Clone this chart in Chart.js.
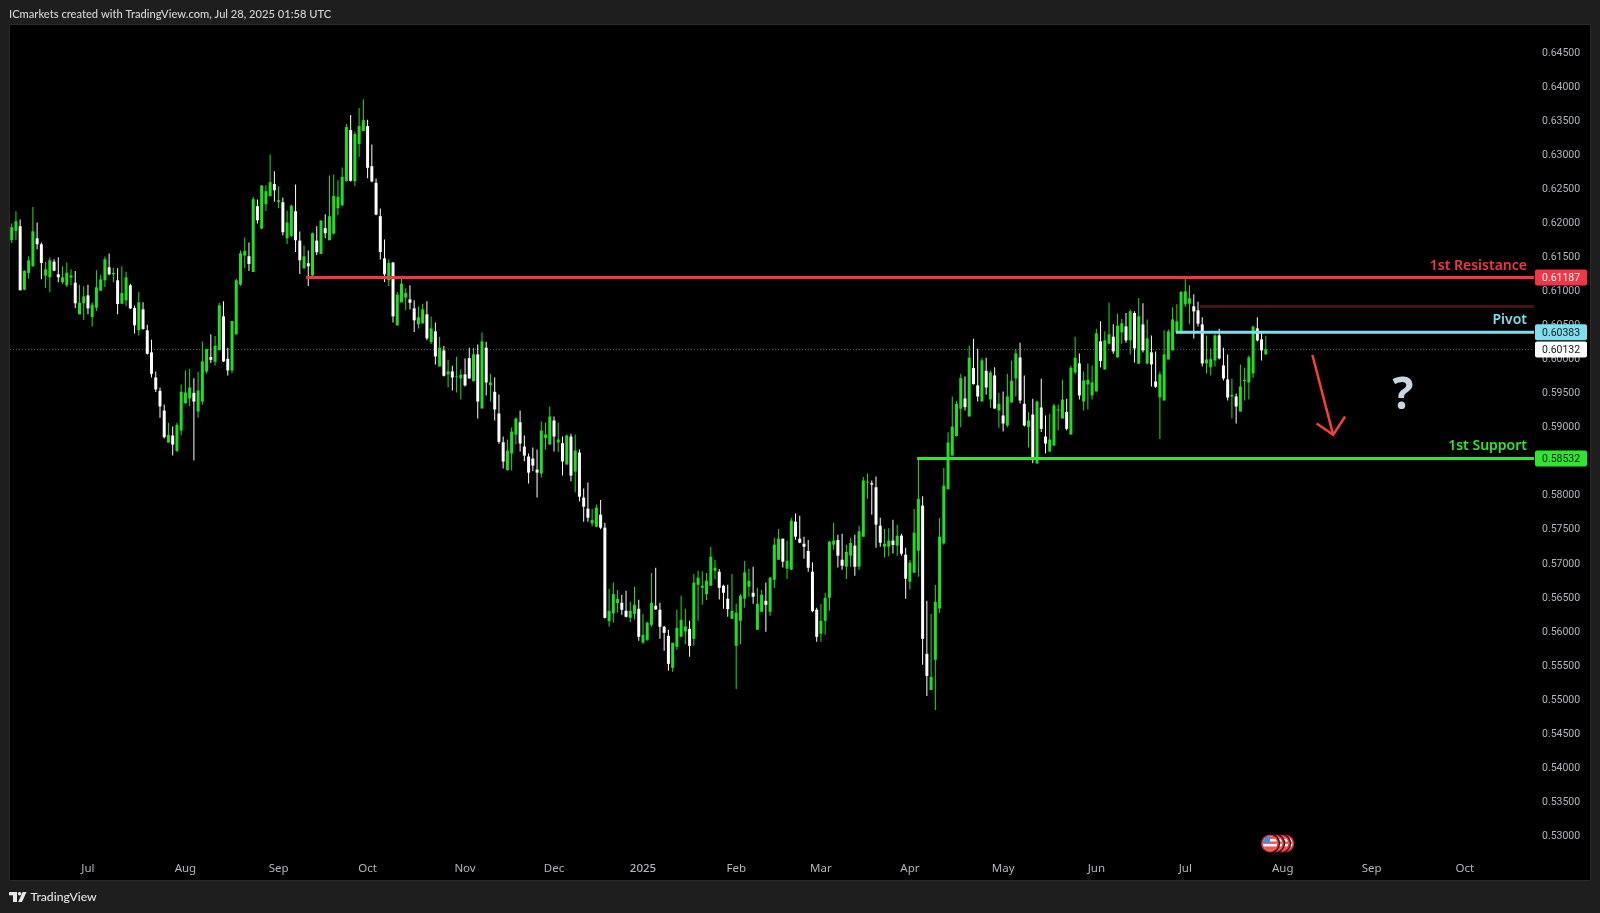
<!DOCTYPE html>
<html><head><meta charset="utf-8"><style>html,body{margin:0;padding:0;background:#1e1e1e}canvas{display:block}</style>
<script src="https://cdn.jsdelivr.net/npm/chart.js@4"></script></head><body><canvas id="c" width="1600" height="913"></canvas>
<script>
// Prices in units of 0.00001
const opens=[61735,61872,61941,61010,61255,61358,61764,61676,61215,61191,
61421,61235,61122,61073,61186,61112,60647,60809,60926,60608,
60745,60995,61147,61338,61235,61147,60804,60853,61073,60740,
60416,60720,60412,60088,59720,59524,59235,58764,58867,58642,
58941,59343,59412,59495,59220,59367,59808,60019,59951,60122,
60617,59995,59823,60353,61083,61510,61500,61269,62235,61907,
62265,62382,62559,62299,62294,61764,61799,62161,61730,61323,
61397,61220,61730,61534,61912,61735,61833,62206,62250,62603,
63353,62603,63147,63338,63412,62823,62578,62088,61470,61147,
61407,60485,60823,60892,60867,60735,60500,60514,60647,60240,
60397,59882,60117,59765,59809,59725,59706,59765,60005,59666,
60059,59265,60157,59608,59510,59191,58769,58358,58603,58882,
59063,58706,58559,58529,58367,58309,58833,58735,59088,58765,
58755,58441,58853,58338,58617,57956,57794,57578,57529,57706,
57515,56142,56255,56407,56412,56294,56191,56250,56324,55828,
55868,56088,56368,56309,56059,55926,55456,55765,55912,55990,
56029,55882,56676,56632,56539,56662,56882,56868,56662,56471,
56176,55779,56147,56471,56647,56559,56015,56279,56441,56279,
56750,57044,57353,56912,56897,57603,57353,57279,57172,56868,
56309,55956,56147,56485,57265,57333,57044,56941,57103,57250,
56941,57382,58176,58167,58108,57544,57235,57235,57324,57250,
57397,57118,56721,56853,57176,57838,55662,55132,55574,56328,
57284,58078,58573,58858,59260,59412,59147,59858,59603,59367,
59818,59397,59750,59235,59162,59015,59353,59706,60015,59333,
58995,59176,58456,59279,58853,58632,58720,59235,59118,59216,
58882,59794,59926,59367,59617,59456,59515,60250,59838,60215,
60319,60015,60382,60470,60265,60667,59922,60500,59926,60088,
59662,59426,59382,59985,60118,60382,60367,60794,60804,60765,
60706,60500,59926,59868,59970,60338,59897,59691,59441,59441,
59220,59667,59647,59779,60441,60279,60059];
const highs=[61980,62162,62039,61294,61500,62225,61995,61701,61416,61480,
61456,61485,61353,61407,61309,61284,61083,61059,61083,60823,
61294,61230,61495,61539,61333,61323,61353,61274,61098,60774,
60975,60823,60495,60274,59808,59573,59323,59054,59000,59054,
59617,59823,59848,59710,59804,60250,60142,60353,60328,60818,
60838,60157,60549,61171,61583,61774,61701,62372,62333,62544,
62544,62995,62750,62529,62362,62171,62260,62554,61862,61657,
61583,61848,61941,62029,62117,62686,62701,62617,62804,63441,
63573,63328,63676,63804,63505,63142,62642,62201,61745,61456,
61416,60975,61201,61029,61073,60853,60764,60804,60838,60617,
60529,60318,60181,59980,59892,60024,59838,60000,60157,60152,
60206,60382,60245,59774,59720,59470,58853,58809,58985,59132,
59235,58867,58603,58691,58662,59073,59059,59294,59147,59059,
58853,58882,58892,58882,58662,58088,58176,57789,57853,57922,
57588,56613,56711,56598,56524,56588,56426,56647,56456,56245,
56132,56848,56926,56412,56073,56015,55824,56309,56515,56324,
56147,56833,56882,56873,56848,57235,57044,56907,56676,56676,
56833,56397,56539,57024,56912,56941,56632,56598,56711,56794,
57368,57495,57353,57324,57662,57721,57691,57382,57333,57005,
56338,56392,56559,57324,57588,57412,57426,57265,57368,57412,
57544,58260,58309,58206,58265,57662,57495,57505,57632,57559,
57426,57221,57044,57789,58530,57975,56441,56245,56672,57657,
58392,58916,59441,59372,59774,59735,60191,60289,60142,60005,
60010,59823,59872,59495,59515,59774,59970,60142,60230,59750,
59211,59407,59382,59701,59162,59186,59333,59323,59686,59407,
59892,60318,60073,59809,59926,59897,60436,60544,60397,60818,
60500,60657,60583,60667,60720,60691,60882,60809,60573,60338,
60103,59809,60412,60426,60750,60794,60990,61206,61073,60941,
60833,60603,60338,60147,60353,60436,60157,60059,59701,59485,
59912,59863,60044,60480,60603,60387,60333];
const lows=[61696,61735,61000,61000,61171,61343,61603,61161,61039,60970,
61279,61117,61088,61049,61073,60735,60647,60563,60647,60470,
60696,60990,61049,61220,61117,60647,60794,60765,60725,60367,
60338,60421,60058,59720,59505,59127,58823,58764,58573,58622,
58872,59333,59299,58500,59127,59318,59774,59931,59897,60122,
59946,59750,59784,60353,61068,61328,61284,61269,61980,61897,
62166,62382,62299,62206,61804,61681,61784,61563,61240,61318,
61063,61196,61519,61534,61764,61735,61818,62103,62235,62603,
62598,62529,62961,63338,62647,62588,62103,61451,61122,61063,
60529,60485,60823,60706,60720,60387,60441,60514,60265,60211,
59912,59882,59735,59573,59529,59500,59397,59588,59701,59662,
59117,59265,59456,59367,59088,58745,58382,58353,58353,58735,
58632,58490,58162,58343,57956,58250,58657,58735,58632,58627,
58279,58441,58196,58034,57897,57603,57603,57534,57520,57490,
56181,56064,56118,56270,56235,56196,56127,56167,55853,55804,
55853,56059,56309,55882,55706,55412,55397,55721,55912,55804,
55618,55779,56147,56382,56451,56662,56760,56461,56324,56206,
56176,55147,55804,56338,56500,56397,56015,56279,55985,56221,
56627,57044,56931,56760,56897,57338,57284,57059,56868,56274,
55838,55838,55941,56294,57191,56931,56897,56760,56941,56809,
56897,57382,57941,57706,57221,57235,57078,57093,57137,57103,
57103,56471,56608,56853,56794,55500,55044,55132,54838,56265,
57265,58078,58573,58858,58990,59235,59147,59617,59367,59367,
59470,59274,59260,58980,58926,58990,59353,59441,59338,59000,
58691,58460,58456,58921,58603,58632,58720,58941,59118,58941,
58882,59765,59397,59235,59250,59397,59515,59868,59838,60215,
60069,60015,60216,60230,60059,59941,59922,60088,59912,59588,
59568,58818,59382,59985,60118,60382,60367,60755,60500,60294,
60470,59882,59779,59750,59882,59985,59676,59382,59118,59044,
59220,59382,59397,59716,60250,59970,60059];
const closes=[61926,62014,61000,61284,61441,61867,61676,61402,61309,61441,
61289,61191,61191,61259,61220,60809,60818,60911,60735,60789,
61044,61161,61456,61235,61255,60799,60961,61191,60735,60485,
60823,60431,60068,59774,59544,59294,58843,58877,58735,59024,
59510,59500,59573,59367,59529,59956,60137,59980,60186,60779,
59956,59823,60549,61147,61544,61578,61387,62338,62029,62539,
62456,62588,62470,62323,61853,61995,62240,61735,61441,61500,
61353,61838,61559,62024,61838,62088,62387,62372,62666,63397,
62608,63294,63412,63500,62799,62598,62112,61563,61235,61402,
60617,60936,61098,60961,60818,60559,60603,60720,60294,60441,
60029,60157,59745,59809,59720,59735,59760,59603,59706,60059,
59367,60250,59647,59647,59250,58774,58485,58647,58926,59117,
58750,58573,58323,58426,58323,58941,58882,59147,58853,58809,
58485,58867,58279,58647,57970,57823,57661,57627,57809,57515,
56191,56294,56539,56471,56309,56206,56294,56382,55912,55941,
56118,56412,56314,56059,55971,55515,55824,56044,56162,56064,
55779,56706,56779,56662,56735,57088,56926,56632,56559,56319,
56294,56265,56515,56858,56735,56500,56397,56529,56382,56779,
57265,57353,57015,57029,57618,57382,57294,57235,56926,56289,
55912,56147,56485,57309,57324,57103,56956,57157,57289,56941,
57461,58206,58191,58147,57559,57294,57279,57324,57260,57397,
57132,56765,57000,57441,57936,55882,55338,55324,56426,57382,
58132,58765,59000,59333,59711,59284,60010,59622,59441,59970,
59573,59794,59265,59333,59044,59441,59671,60073,59382,59015,
59088,58514,59367,58965,58750,58809,59309,59250,59397,58965,
59862,60010,59456,59676,59686,59647,60367,59961,60265,60353,
60103,60480,60515,60265,60691,60147,60618,60118,60294,59912,
59583,59765,60059,60397,60573,60544,60975,60985,60882,60691,
60510,59926,59985,59990,60338,60000,59706,59426,59465,59294,
59588,59686,60015,60466,60265,60118,60132];

const monthTickIndex=[18,41,63,84,107,128,149,171,191,212,234,256,277,300,321,343];
const monthTickLabels=["Jul","Aug","Sep","Oct","Nov","Dec","2025","Feb","Mar","Apr","May","Jun","Jul","Aug","Sep","Oct"];
const priceTicks=[0.53,0.535,0.54,0.545,0.55,0.555,0.56,0.565,0.57,0.575,0.58,0.585,0.59,0.595,0.6,0.605,0.61,0.615,0.62,0.625,0.63,0.635,0.64,0.645];

const resistanceLevel=0.61187, pivotLevel=0.60383, supportLevel=0.58532, lastPrice=0.60132, minorLevel=0.60764;
const resistanceStart=69.5, pivotStart=274.8, supportStart=213.7, minorStart=280.5;
const arrowShaft=[{x:307,y:0.6005},{x:311.9,y:0.58878}];
const arrowHead=[{x:308,y:0.59044},{x:311.9,y:0.58878},{x:314.7,y:0.59147}];
const questionMark={x:328.4,y:0.59435};
const eventIndex=[300.6,299.6,298.2,297];

const UP='#22dd22', DOWN='#ffffff', RED='#f23645', CYAN='#80deea', GREEN='#2ee62e';
const X_MAX=359.3, X_MIN=-0.4, Y_MIN=0.526785, Y_MAX=0.648959;
const FONT='Roboto, sans-serif';
const idx=opens.map((_,i)=>i);
const candleColors=idx.map(i=>closes[i]>=opens[i]?UP:DOWN);
const wickData=idx.map(i=>({x:i,y:[lows[i]/1e5,highs[i]/1e5]}));
const bodyData=idx.map(i=>({x:i,y:[Math.min(opens[i],closes[i])/1e5,Math.max(opens[i],closes[i])/1e5]}));
const hline=(start,v)=>[{x:start,y:v},{x:X_MAX,y:v}];
const lineDs=(data,color,width,order,extra)=>Object.assign({type:'line',data,borderColor:color,borderWidth:width,pointRadius:0,tension:0,order,borderCapStyle:'butt'},extra||{});

const frame={id:'frame',beforeDraw(ch){const c=ch.ctx;c.save();
  c.fillStyle='#1e1e1e';c.fillRect(0,0,1600,913);
  c.fillStyle='#2a2a2a';c.fillRect(9,24,1582,857);
  c.fillStyle='#000';c.fillRect(10,25,1580,855);c.restore();},
 afterDraw(ch){const c=ch.ctx,x=ch.scales.x,y=ch.scales.y;c.save();
  // header and footer
  c.textBaseline='middle';c.textAlign='left';
  c.fillStyle='#d6d6d6';c.font='500 11.15px Lato, sans-serif';
  c.fillText('ICmarkets created with TradingView.com, Jul 28, 2025 01:58 UTC',9,14);
  c.fillStyle='#e4e4e4';c.font='500 12.2px Lato, sans-serif';
  c.fillText('TradingView',30.5,897);
  c.fillStyle='#e8e8e8';c.fillRect(9,892,8,3.3);c.fillRect(13,892,4,10);
  c.beginPath();c.arc(19.6,893.8,1.8,0,7);c.fill();
  c.beginPath();c.moveTo(18.2,902);c.lineTo(22.6,892);c.lineTo(26.5,892);c.lineTo(22,902);c.closePath();c.fill();
  // level captions
  c.textAlign='right';c.font='600 14px "Noto Sans", sans-serif';
  c.fillStyle=RED;c.fillText('1st Resistance',1527,y.getPixelForValue(resistanceLevel)-12);
  c.fillStyle=CYAN;c.fillText('Pivot',1527,y.getPixelForValue(pivotLevel)-12);
  c.fillStyle=GREEN;c.fillText('1st Support',1527,y.getPixelForValue(supportLevel)-12);
  // price tags
  const tag=(v,bg,fg)=>{const py=y.getPixelForValue(v);c.fillStyle=bg;c.beginPath();c.roundRect(1535,py-8,52,16,2);c.fill();
    c.fillStyle=fg;c.textAlign='left';c.font='10.5px '+FONT;c.fillText(v.toFixed(5),1542,py+1);};
  tag(resistanceLevel,RED,'#ffffff');tag(lastPrice,'#ffffff','#131722');tag(pivotLevel,CYAN,'#131722');tag(supportLevel,GREEN,'#131722');
  // question mark
  c.textAlign='center';c.fillStyle='#c9d6e2';c.font='bold 44px "Open Sans", sans-serif';
  c.fillText('?',x.getPixelForValue(questionMark.x),y.getPixelForValue(questionMark.y));
  // event flags
  eventIndex.forEach((e,n)=>{const cx=x.getPixelForValue(e),cy=843.5,r=9;
    c.save();c.beginPath();c.arc(cx,cy,r+1,0,7);c.fillStyle='#000';c.fill();
    c.beginPath();c.arc(cx,cy,r,0,7);c.fillStyle='#d32f3c';c.fill();
    c.beginPath();c.arc(cx,cy,r-1.7,0,7);c.clip();
    c.fillStyle='#f5f5f5';c.fillRect(cx-9,cy-9,18,18);
    c.fillStyle='#ef5350';c.fillRect(cx-9,cy-7,18,2.4);c.fillRect(cx-9,cy-2,18,2.4);c.fillRect(cx-9,cy+3,18,5);
    c.fillStyle='#3f8fe8';c.fillRect(cx-9,cy-9,9,8.5);c.restore();});
  c.restore();}};

new Chart(document.getElementById('c'),{
 type:'bar',
 data:{datasets:[
  lineDs(hline(X_MIN,lastPrice),'#5a5a5a',1,9,{borderDash:[1,2]}),
  {label:'wicks',data:wickData,backgroundColor:candleColors,barThickness:1,grouped:false,borderWidth:0,inflateAmount:0,order:6},
  {label:'bodies',data:bodyData,backgroundColor:candleColors,barThickness:3,grouped:false,borderWidth:0,inflateAmount:0,order:5},
  lineDs(hline(minorStart,minorLevel),'#4a0f16',3,4),
  lineDs(hline(pivotStart,pivotLevel),CYAN,3,3),
  lineDs(hline(resistanceStart,resistanceLevel),RED,3,2),
  lineDs(hline(supportStart,supportLevel),GREEN,3,1),
  lineDs(arrowShaft,'#f44336',2.5,0),
  lineDs(arrowHead,'#f44336',2.5,0)
 ]},
 plugins:[frame],
 options:{
  responsive:false,animation:false,events:[],
  layout:{padding:{left:10,right:10,top:25,bottom:33}},
  plugins:{legend:{display:false},tooltip:{enabled:false},title:{display:false}},
  scales:{
   x:{type:'linear',offset:false,min:X_MIN,max:X_MAX,bounds:'data',
      grid:{display:false,drawTicks:false},border:{display:false},
      afterBuildTicks:s=>{s.ticks=monthTickIndex.map(v=>({value:v}));},
      afterFit:s=>{s.height=23;},
      ticks:{autoSkip:false,maxRotation:0,minRotation:0,padding:5,color:'#b2b5be',
        font:c=>({family:'"Noto Sans", sans-serif',size:11.5,weight:c.tick&&c.tick.value===149?'500':'400'}),
        callback:v=>monthTickLabels[monthTickIndex.indexOf(v)]||''}},
   y:{type:'linear',position:'right',min:Y_MIN,max:Y_MAX,bounds:'data',
      grid:{display:false,drawTicks:false},border:{display:false},
      afterBuildTicks:s=>{s.ticks=priceTicks.map(v=>({value:v}));},
      afterFit:s=>{s.width=56;},
      ticks:{autoSkip:false,padding:8,labelOffset:1.2,color:'#b2b5be',font:{family:FONT,size:10.5},
        callback:v=>v.toFixed(5)}}
  }
 }
});
</script></body></html>
